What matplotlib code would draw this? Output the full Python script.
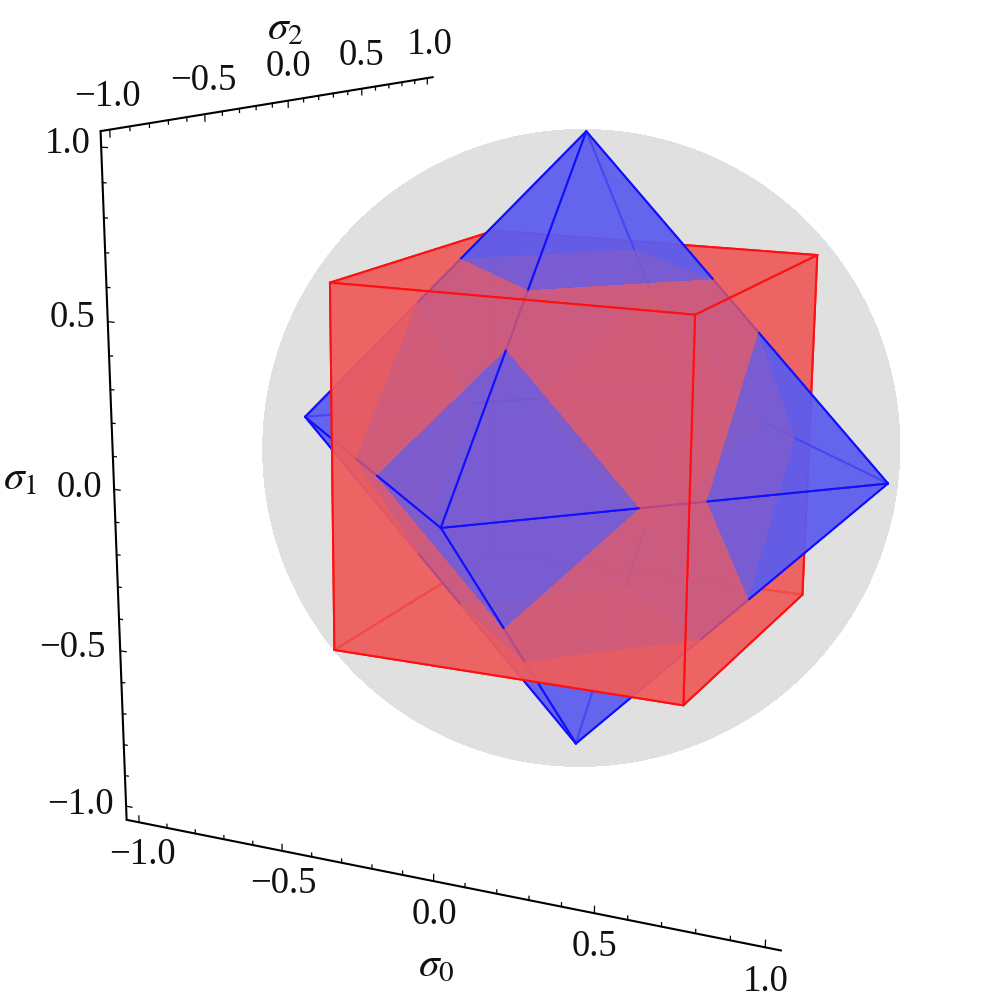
import numpy as np
import matplotlib
matplotlib.use('Agg')
import matplotlib.pyplot as plt

plt.rcParams['font.family'] = ['Liberation Serif', 'DejaVu Serif']
plt.rcParams['mathtext.fontset'] = 'stix'

# the two solids
cube_half = 0.577
cube_verts = [(-1, -1, -1), (1, -1, -1), (1, 1, -1), (-1, 1, -1),
              (-1, -1, 1), (1, -1, 1), (1, 1, 1), (-1, 1, 1)]
cube_faces = [(0, 1, 2, 3), (4, 5, 6, 7), (0, 1, 5, 4),
              (2, 3, 7, 6), (1, 2, 6, 5), (3, 0, 4, 7)]
octa_verts = [(1, 0, 0), (-1, 0, 0), (0, 1, 0), (0, -1, 0), (0, 0, 1), (0, 0, -1)]
octa_faces = [(0, 2, 4), (2, 1, 4), (1, 3, 4), (3, 0, 4),
              (2, 0, 5), (1, 2, 5), (3, 1, 5), (0, 3, 5)]

# box and ticks
box = 1.045
ticks = [-1.0, -0.9, -0.8, -0.7, -0.6, -0.5, -0.4, -0.3, -0.2, -0.1, 0.0,
         0.1, 0.2, 0.3, 0.4, 0.5, 0.6, 0.7, 0.8, 0.9, 1.0]
major_ticks = [-1.0, -0.5, 0.0, 0.5, 1.0]
tick_text = ['\u22121.0', '\u22120.5', '0.0', '0.5', '1.0']

# label centres in pixels
s0_label_pos = [(142, 855), (283, 884), (434.5, 915), (594, 947), (765.5, 981.5)]
s1_label_pos = [(80, 805), (72, 648), (79.5, 488), (72, 318), (67.5, 144)]
s2_label_pos = [(107.5, 97), (203, 81), (288, 67), (361, 55.5), (429.5, 45)]
axis_names = [(r'$\sigma_{\mathrm{0}}$', 436, 965),
              (r'$\sigma_{\mathrm{1}}$', 20, 479),
              (r'$\sigma_{\mathrm{2}}$', 285, 29)]

red_face = (239 / 255, 92 / 255, 92 / 255)
blue_face = (92 / 255, 92 / 255, 239 / 255)
red_line = '#ff1010'
blue_line = '#1010ff'
face_alpha = 0.75

# camera: matched points between space and the picture
a = cube_half
b = box
cam_space = [(0, 1, 0), (-1, 0, 0), (0, -1, 0), (1, 0, 0), (0, 0, -1), (0, 0, 1),
             (-a, a, -a), (a, a, -a), (a, a, a), (a, -a, -a), (a, -a, a), (-a, -a, -a),
             (-a, a, a), (-a, -a, a),
             (-b, -b, -b), (b, -b, -b), (-b, b, -b), (-b, b, b),
             (-1, -b, -b), (-0.5, -b, -b), (0, -b, -b), (0.5, -b, -b), (1, -b, -b),
             (-b, 1, -b), (-b, 0.5, -b), (-b, 0, -b), (-b, -0.5, -b), (-b, -1, -b),
             (-b, b, -1), (-b, b, 0), (-b, b, 1)]
cam_image = [(584.7, 131.7), (305, 415.7), (576.7, 742.7), (886.7, 484.3), (440.7, 528), (690, 385),
             (329, 282), (694.3, 314.7), (817, 255.3), (684, 705.7), (802.7, 595), (334, 650),
             (499, 228.5), (487, 555),
             (127, 819), (782, 951), (100, 131), (433, 77),
             (139.3, 822), (282, 850), (434, 880.7), (595, 912.7), (765.7, 947.3),
             (102.5, 146.5), (107.5, 322), (114, 490), (120.4, 652), (126.5, 807),
             (108.7, 130), (287.7, 101), (428.3, 79.3)]


def fit_camera(space, image):
    rows = []
    for (x, y, z), (u, v) in zip(space, image):
        u, v = (u - 500) / 500, (v - 500) / 500
        rows.append([x, y, z, 1, 0, 0, 0, 0, -u * x, -u * y, -u * z, -u])
        rows.append([0, 0, 0, 0, x, y, z, 1, -v * x, -v * y, -v * z, -v])
    m = np.linalg.svd(np.array(rows))[2][-1].reshape(3, 4)
    norm = np.array([[500, 0, 500], [0, 500, 500], [0, 0, 1]])
    return norm @ m


cam = fit_camera(cam_space, cam_image)
null = np.linalg.svd(cam)[2][-1]
eye = null[:3] / null[3]


def project(pts):
    pts = np.atleast_2d(np.array(pts, dtype=float))
    h = cam @ np.c_[pts, np.ones(len(pts))].T
    return h[0] / h[2], h[1] / h[2]


# BSP so that transparent faces that cut each other stack correctly
EPS = 1e-9


def make_poly(pts, color, line):
    pts = np.array(pts, dtype=float)
    n = np.cross(pts[1] - pts[0], pts[2] - pts[0])
    n = n / np.linalg.norm(n)
    return {'pts': pts, 'flags': [True] * len(pts), 'color': color, 'line': line,
            'n': n, 'd': n @ pts[0]}


def clip(poly, dist, sign):
    pts, flags = poly['pts'], poly['flags']
    out, out_flags = [], []
    k = len(pts)
    for i in range(k):
        j = (i + 1) % k
        da, db = sign * dist[i], sign * dist[j]
        if da >= 0:
            out.append(pts[i])
            out_flags.append(flags[i])
            if db < 0:
                out.append(pts[i] + (pts[j] - pts[i]) * da / (da - db))
                out_flags.append(False)
        elif db > 0:
            out.append(pts[i] + (pts[j] - pts[i]) * da / (da - db))
            out_flags.append(flags[i])
    if len(out) < 3:
        return None
    piece = dict(poly)
    piece['pts'] = np.array(out)
    piece['flags'] = out_flags
    return piece


def back_to_front(polys):
    if not polys:
        return []
    head = polys[0]
    front, back, same = [], [], [head]
    for p in polys[1:]:
        dist = p['pts'] @ head['n'] - head['d']
        dist[np.abs(dist) < EPS] = 0
        if dist.min() == 0 and dist.max() == 0:
            same.append(p)
        elif dist.min() >= 0:
            front.append(p)
        elif dist.max() <= 0:
            back.append(p)
        else:
            f = clip(p, dist, 1)
            r = clip(p, dist, -1)
            if f is not None:
                front.append(f)
            if r is not None:
                back.append(r)
    if head['n'] @ eye - head['d'] > 0:
        return back_to_front(back) + same + back_to_front(front)
    return back_to_front(front) + same + back_to_front(back)


polys = []
cv = np.array(cube_verts, dtype=float) * cube_half
ov = np.array(octa_verts, dtype=float)
for f in cube_faces:
    polys.append(make_poly(cv[list(f)], red_face, red_line))
for f in octa_faces:
    polys.append(make_poly(ov[list(f)], blue_face, blue_line))

fig = plt.figure(figsize=(10, 10.05), dpi=100)
ax = fig.add_axes([0, 0, 1, 1])
ax.set_xlim(0, 1000)
ax.set_ylim(1005, 0)
ax.axis('off')

# grey sphere outline as seen from the camera
dist2 = eye @ eye
centre = eye / dist2
radius = np.sqrt(1 - 1 / dist2)
e1 = np.cross(eye, [0, 1, 0])
e1 = e1 / np.linalg.norm(e1)
e2 = np.cross(eye, e1)
e2 = e2 / np.linalg.norm(e2)
t = np.linspace(0, 2 * np.pi, 361)
ring = centre + radius * (np.outer(np.cos(t), e1) + np.outer(np.sin(t), e2))
sx, sy = project(ring)
ax.fill(sx, sy, color='#e0e0e0', lw=0, antialiased=False, zorder=1)

z = 2
for p in back_to_front(polys):
    x, y = project(p['pts'])
    ax.fill(x, y, facecolor=p['color'], edgecolor='none', alpha=face_alpha, lw=0,
            antialiased=False, snap=False, zorder=z)
    z += 1
    k = len(x)
    for i in range(k):
        if p['flags'][i]:
            j = (i + 1) % k
            ax.plot([x[i], x[j]], [y[i], y[j]], color=p['line'], lw=1.45,
                    solid_capstyle='round', zorder=z)
    z += 1

# box edges
edge_lw = 1.5
for start, end in [((-b, -b, -b), (b, -b, -b)), ((-b, -b, -b), (-b, b, -b)), ((-b, b, -b), (-b, b, b))]:
    x, y = project([start, end])
    ax.plot(x, y, color='k', lw=edge_lw, solid_capstyle='round', zorder=z)

# tick marks
for v in ticks:
    tl = 0.021 if v in major_ticks else 0.012
    for base, tip in [((v, -b, -b), (v, -b + tl, -b)),
                      ((-b, v, -b), (-b + tl, v, -b)),
                      ((-b, b, v), (-b, b - tl, v))]:
        x, y = project([base, tip])
        ax.plot(x, y, color='k', lw=0.9, zorder=z)

fs = 26.5
for positions in (s0_label_pos, s1_label_pos, s2_label_pos):
    for txt, (x, y) in zip(tick_text, positions):
        ax.text(x, y, txt, fontsize=fs, ha='center', va='center', color='#111111')
for name, x, y in axis_names:
    ax.text(x, y, name, fontsize=30, ha='center', va='center', color='#111111')

fig.savefig('out.png', dpi=100)
